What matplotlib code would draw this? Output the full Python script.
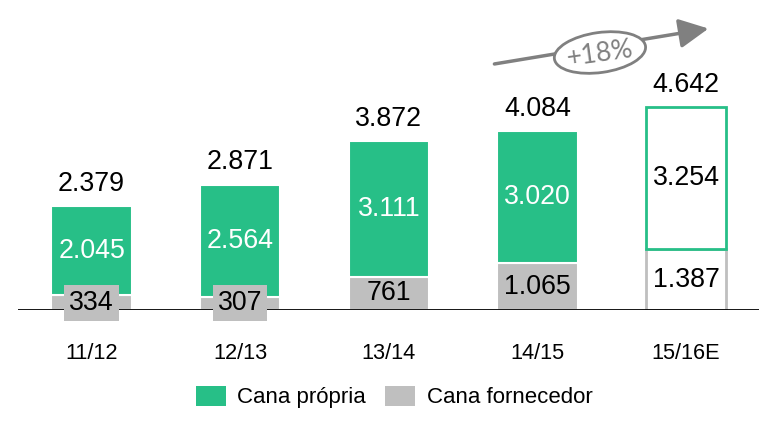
import matplotlib
matplotlib.use('Agg')
import matplotlib.pyplot as plt
from matplotlib.patches import Patch, Ellipse
from matplotlib.transforms import IdentityTransform

plt.rcParams['font.family'] = ['Liberation Sans', 'DejaVu Sans']

# data
safras = ['11/12', '12/13', '13/14', '14/15', '15/16E']
cana_propria = [2045, 2564, 3111, 3020, 3254]
cana_fornecedor = [334, 307, 761, 1065, 1387]
totais = [2379, 2871, 3872, 4084, 4642]
crescimento = '+18%'

verde = '#27BF87'
cinza = '#BFBFBF'
seta_cor = '#808080'


def fmt(v):
    return f'{v:,}'.replace(',', '.')


fig = plt.figure(figsize=(7.8, 4.3), dpi=100)
ax = fig.add_axes([18 / 780, 120 / 430, 741 / 780, 300 / 430])

x = range(len(safras))
estimado = [s.endswith('E') for s in safras]

fc_forn = ['white' if e else cinza for e in estimado]
ec_forn = [cinza if e else 'white' for e in estimado]
fc_prop = ['white' if e else verde for e in estimado]
ec_prop = [verde if e else 'white' for e in estimado]
lws = [2 if e else 1.5 for e in estimado]

ax.bar(x, cana_fornecedor, width=0.54, color=fc_forn, edgecolor=ec_forn, linewidth=lws, zorder=1)
ax.bar(x, cana_propria, width=0.54, bottom=cana_fornecedor, color=fc_prop,
       edgecolor=ec_prop, linewidth=lws, zorder=1)

ax.axhline(0, color='black', lw=2, zorder=2)

fs = 19.3
for i in x:
    # fornecedor label
    yb = cana_fornecedor[i] / 2
    if cana_fornecedor[i] < 500:
        ax.text(i, yb, fmt(cana_fornecedor[i]), ha='center', va='center', fontsize=fs,
                color='black', zorder=4,
                bbox=dict(boxstyle='square,pad=0.18', fc=cinza, ec='none'))
    else:
        ax.text(i, yb, fmt(cana_fornecedor[i]), ha='center', va='center', fontsize=fs,
                color='black', zorder=4)
    # propria label
    yp = cana_fornecedor[i] + cana_propria[i] / 2
    ax.text(i, yp, fmt(cana_propria[i]), ha='center', va='center', fontsize=fs,
            color='black' if estimado[i] else 'white', zorder=4)
    # total
    ax.annotate(fmt(totais[i]), (i, totais[i]), xytext=(0, 16), textcoords='offset points',
                ha='center', va='center', fontsize=fs, color='black')

ax.set_xlim(-0.495, 4.49)
ax.set_ylim(0, 6865)
ax.set_xticks(list(x), safras, fontsize=15.7)
ax.tick_params(axis='x', length=0, pad=24)
ax.set_yticks([])
for s in ax.spines.values():
    s.set_visible(False)

# growth arrow
ax.annotate('', xy=(4.15, 6440), xytext=(2.71, 5630),
            arrowprops=dict(arrowstyle='-|>,head_length=0.9,head_width=0.45',
                            mutation_scale=20, color=seta_cor, lw=2.5,
                            shrinkA=0, shrinkB=0), zorder=5)
cx, cy = ax.transData.transform((3.42, 5892))
ax.add_patch(Ellipse((cx, cy), 92, 40, angle=8, transform=IdentityTransform(),
                     fc='white', ec=seta_cor, lw=2, zorder=6, clip_on=False))
ax.text(3.42, 5870, crescimento, ha='center', va='center', rotation=8, fontsize=19,
        family=['Lato', 'DejaVu Sans'], color=seta_cor, zorder=7)

handles = [Patch(facecolor=verde, edgecolor='none'), Patch(facecolor=cinza, edgecolor='none')]
fig.legend(handles, ['Cana própria', 'Cana fornecedor'], loc='center',
           bbox_to_anchor=(0.505, 0.077), ncol=2, frameon=False, fontsize=16,
           handlelength=1.35, handleheight=1.0, handletextpad=0.5, columnspacing=0.9)

fig.savefig('out.png', dpi=100)
